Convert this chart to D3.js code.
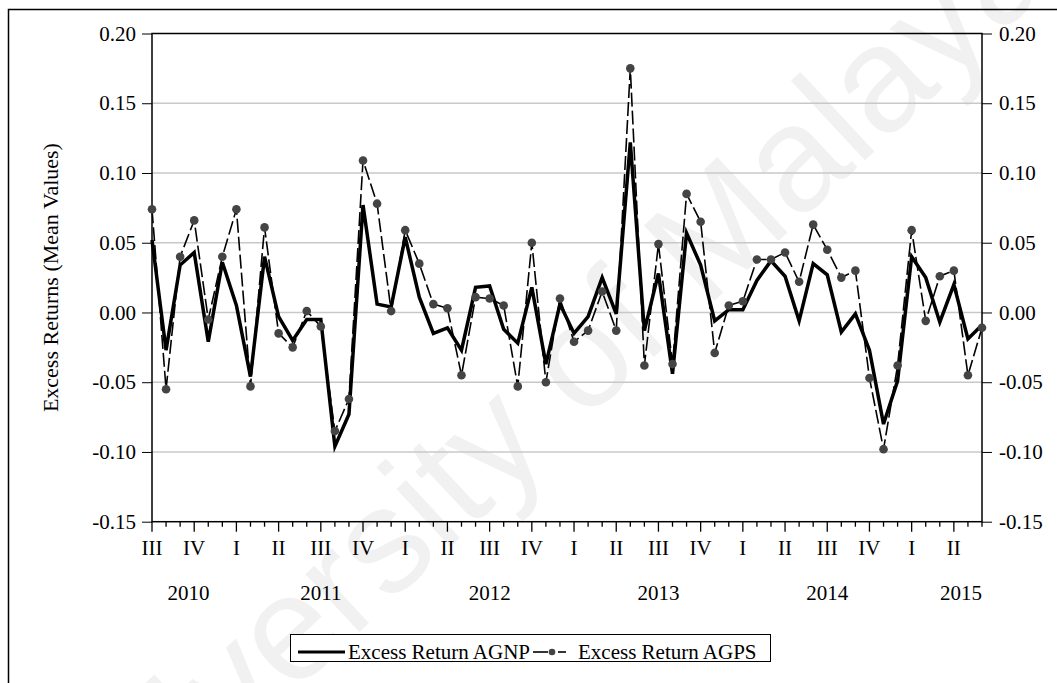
<!DOCTYPE html>
<html><head><meta charset="utf-8">
<script src="https://cdn.jsdelivr.net/npm/d3@7"></script>
<style>
body{margin:0;background:#fff}
svg{display:block}
</style>
</head><body><svg id="c" width="1057" height="683" style="font-family:'Liberation Serif','Times New Roman',serif"></svg>
<script>
// Monthly observations, July 2010 – June 2015
const months = d3.timeMonth.range(new Date(2010, 6, 1), new Date(2015, 6, 1));
const seriesNames = ["Excess Return AGNP", "Excess Return AGPS"];
const agnp = [0.052,-0.027,0.034,0.043,-0.021,0.036,0.005,-0.046,0.040,-0.003,
  -0.020,-0.005,-0.005,-0.096,-0.073,0.077,0.006,0.004,0.054,0.011,
  -0.015,-0.011,-0.027,0.018,0.019,-0.012,-0.022,0.018,-0.037,0.006,
  -0.015,-0.003,0.025,-0.001,0.122,-0.013,0.028,-0.044,0.057,0.034,
  -0.006,0.002,0.002,0.023,0.037,0.026,-0.006,0.035,0.027,-0.014,
  -0.001,-0.027,-0.080,-0.049,0.040,0.025,-0.007,0.020,-0.019,-0.009];
const agps = [0.074,-0.055,0.040,0.066,-0.005,0.040,0.074,-0.053,0.061,-0.015,
  -0.025,0.001,-0.010,-0.085,-0.062,0.109,0.078,0.001,0.059,0.035,
  0.006,0.003,-0.045,0.011,0.010,0.005,-0.053,0.050,-0.050,0.010,
  -0.021,-0.013,0.015,-0.013,0.175,-0.038,0.049,-0.037,0.085,0.065,
  -0.029,0.005,0.008,0.038,0.038,0.043,0.022,0.063,0.045,0.025,
  0.030,-0.047,-0.098,-0.038,0.059,-0.006,0.026,0.030,-0.045,-0.011];
const yTicks = [-0.15,-0.10,-0.05,0.00,0.05,0.10,0.15,0.20];
const quarterNames = ["I","II","III","IV"];
const yearNames = ["2010","2011","2012","2013","2014","2015"];
const yearLabelAt = [2.6, 12, 24, 36, 48, 57.5]; // month index where each year label is centred
const yTitle = "Excess Returns (Mean Values)";

const SERIF = "'Liberation Serif','Times New Roman',serif";
const svg = d3.select("#c");
const L = 152, R = 982, T = 33.5, B = 521.7;
const x = d3.scaleLinear().domain([0, months.length - 1]).range([L, R]);
const y = d3.scaleLinear().domain([-0.15, 0.20]).range([B, T]);

// watermark
svg.append("text")
  .attr("transform", "translate(565,440) rotate(-43)")
  .attr("text-anchor", "middle")
  .style("font-family", "'Liberation Sans',Arial,sans-serif")
  .style("font-size", "150px")
  .style("fill", "#000").style("fill-opacity", 0.055)
  .text("University of Malaya");

// outer frame
svg.append("rect").attr("x", 8.5).attr("y", 9.5).attr("width", 1100).attr("height", 700)
  .attr("fill", "none").attr("stroke", "#000").attr("stroke-width", 1.5);

// grid
svg.append("g").selectAll("line").data(yTicks.filter(v => v > -0.15 && v < 0.2)).join("line")
  .attr("x1", L).attr("x2", R).attr("y1", d => y(d)).attr("y2", d => y(d))
  .attr("stroke", "#c8c8c8").attr("stroke-width", 1.5);

// y axes
const fmt = d => d.toFixed(2);
const yl = svg.append("g").attr("transform", `translate(${L},0)`)
  .call(d3.axisLeft(y).tickValues(yTicks).tickFormat(fmt).tickSize(10).tickPadding(6));
const yr = svg.append("g").attr("transform", `translate(${R},0)`)
  .call(d3.axisRight(y).tickValues(yTicks).tickFormat(fmt).tickSize(10).tickPadding(7));
[yl, yr].forEach(g => {
  g.attr("font-family", null).attr("font-size", null);
  g.select(".domain").remove();
  g.selectAll("line").attr("stroke", "#000").attr("stroke-width", 1);
  g.selectAll("text").style("font-size", "21px").style("font-family", SERIF).attr("fill", "#000");
});

// x axis ticks
const xg = svg.append("g").attr("transform", `translate(0,${B})`);
xg.selectAll("line").data(months).join("line")
  .attr("x1", (d, i) => x(i)).attr("x2", (d, i) => x(i))
  .attr("y1", 0).attr("y2", d => d.getMonth() % 3 === 0 ? 10 : 5)
  .attr("stroke", "#000").attr("stroke-width", 1.3);
xg.selectAll("text.q").data(months.map((d, i) => ({d, i})).filter(o => o.d.getMonth() % 3 === 0)).join("text")
  .attr("class", "q").attr("x", o => x(o.i)).attr("y", 33).attr("text-anchor", "middle")
  .style("font-size", "21px").style("font-family", SERIF).text(o => quarterNames[o.d.getMonth() / 3]);
xg.selectAll("text.yr").data(yearNames).join("text")
  .attr("class", "yr").attr("x", (d, i) => x(yearLabelAt[i])).attr("y", 78).attr("text-anchor", "middle")
  .style("font-size", "21px").style("font-family", SERIF).text(d => d);

// plot frame
svg.append("rect").attr("x", L).attr("y", T).attr("width", R - L).attr("height", B - T)
  .attr("fill", "none").attr("stroke", "#000").attr("stroke-width", 1.5);

// y title
svg.append("text").attr("transform", `translate(50,${(T + B) / 2}) rotate(-90)`)
  .attr("text-anchor", "middle").attr("dy", "0.35em")
  .style("font-size", "22px").style("font-family", SERIF).text(yTitle);

// series
const line = d3.line().x((d, i) => x(i)).y(d => y(d));
svg.append("path").datum(agnp).attr("d", line).attr("fill", "none")
  .attr("stroke", "#000").attr("stroke-width", 3.5).attr("stroke-linejoin", "miter");
svg.append("path").datum(agps).attr("d", line).attr("fill", "none")
  .attr("stroke", "#000").attr("stroke-width", 1.6).attr("stroke-dasharray", "14,4");
svg.append("g").selectAll("circle").data(agps).join("circle")
  .attr("cx", (d, i) => x(i)).attr("cy", d => y(d)).attr("r", 4.3).attr("fill", "#444");

// legend
const lg = svg.append("g");
lg.append("rect").attr("x", 290.5).attr("y", 634.5).attr("width", 480).attr("height", 27)
  .attr("fill", "#fff").attr("stroke", "#000").attr("stroke-width", 1);
lg.append("line").attr("x1", 298).attr("x2", 345).attr("y1", 652).attr("y2", 652)
  .attr("stroke", "#000").attr("stroke-width", 3);
lg.append("text").attr("x", 348).attr("y", 659)
  .style("font-size", "21px").style("font-family", SERIF).text(seriesNames[0]);
lg.append("line").attr("x1", 533).attr("x2", 548).attr("y1", 652).attr("y2", 652)
  .attr("stroke", "#000").attr("stroke-width", 1.6);
lg.append("line").attr("x1", 558).attr("x2", 566).attr("y1", 652).attr("y2", 652)
  .attr("stroke", "#000").attr("stroke-width", 1.6);
lg.append("circle").attr("cx", 552).attr("cy", 652).attr("r", 3.3).attr("fill", "#444");
lg.append("text").attr("x", 578).attr("y", 659)
  .style("font-size", "21px").style("font-family", SERIF).text(seriesNames[1]);
</script>
</body></html>
